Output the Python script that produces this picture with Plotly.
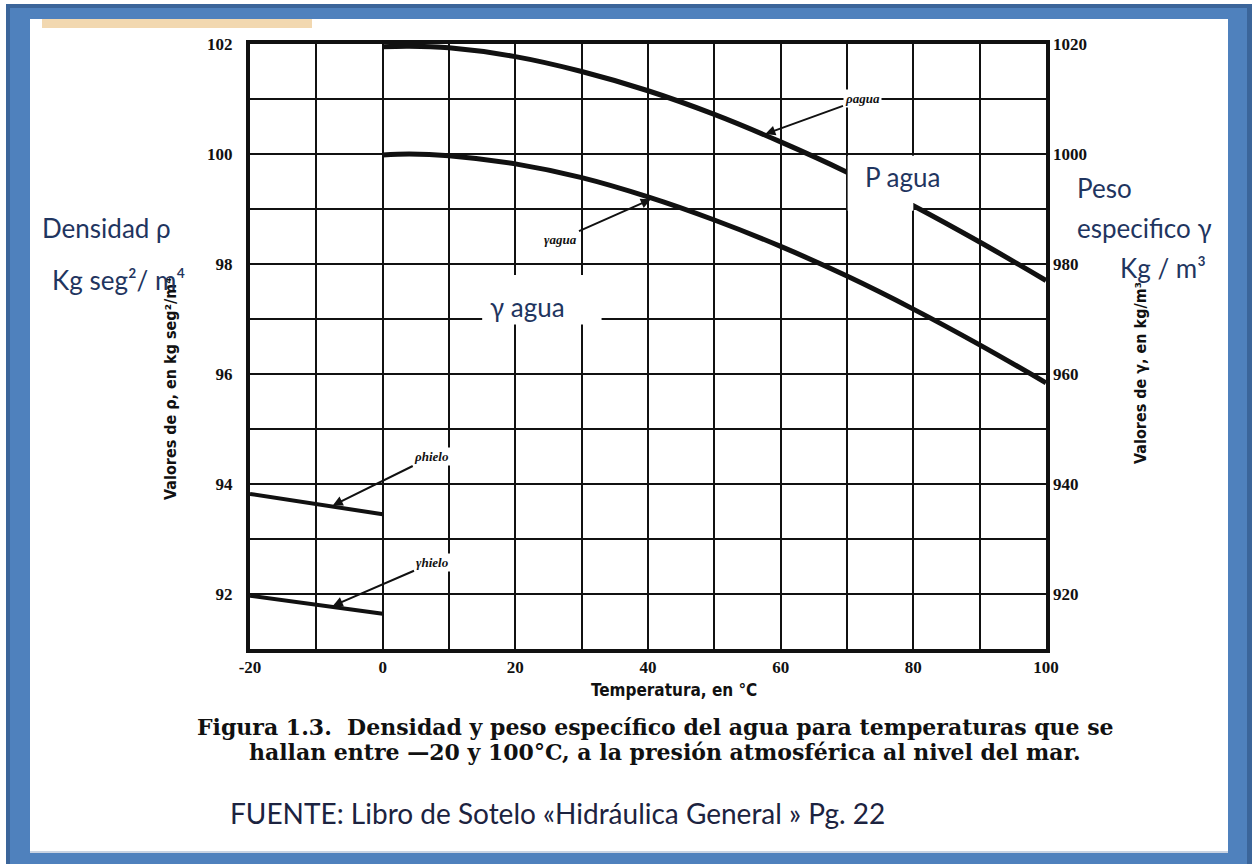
import numpy as np
import plotly.graph_objects as go

# ---------------- data ----------------
T_agua = [0, 4, 10, 20, 30, 40, 50, 60, 70, 80, 90, 100]
rho_agua = [101.95, 101.96, 101.93, 101.77, 101.50, 101.15, 100.72, 100.22, 99.67, 99.06, 98.40, 97.70]
gamma_agua = [999.8, 1000.0, 999.7, 998.2, 995.7, 992.2, 988.0, 983.2, 977.8, 971.8, 965.3, 958.4]

T_hielo = [-20, 0]
rho_hielo = [93.82, 93.45]
gamma_hielo = [919.7, 916.4]

x_ticks = [-20, 0, 20, 40, 60, 80, 100]
x_ticktext = ["-20", "0", "20", "40", "60", "80", "100"]
y_ticks = [92, 94, 96, 98, 100, 102]
y2_ticks = [920, 940, 960, 980, 1000, 1020]

# ---------------- geometry ----------------
W, H = 1256, 864
L, R, T, B = 250, 1046, 44, 649
PW, PH = R - L, B - T


def px(x):
    return (x - L) / PW


def py(y):
    return (B - y) / PH


BLUE = "#4f81bd"
DARK = "#3b659a"
TXT = "#1f3560"
INK = "#111111"
NARROW = "DejaVu Sans Condensed, Liberation Sans, Arial"

fig = go.Figure()

fig.add_trace(go.Scatter(x=T_agua, y=rho_agua, mode="lines", line=dict(color=INK, width=5, shape="spline"),
                         name="ρ agua", yaxis="y"))
fig.add_trace(go.Scatter(x=T_agua, y=gamma_agua, mode="lines", line=dict(color=INK, width=5, shape="spline"),
                         name="γ agua", yaxis="y2"))
fig.add_trace(go.Scatter(x=T_hielo, y=rho_hielo, mode="lines", line=dict(color=INK, width=4),
                         name="ρ hielo", yaxis="y"))
fig.add_trace(go.Scatter(x=T_hielo, y=gamma_hielo, mode="lines", line=dict(color=INK, width=4),
                         name="γ hielo", yaxis="y2"))

tickfont = dict(family="Liberation Serif", size=17, color=INK, weight="bold")

fig.update_layout(
    width=W, height=H,
    margin=dict(l=L, r=W - R, t=T, b=H - B),
    paper_bgcolor="white", plot_bgcolor="rgba(0,0,0,0)",
    showlegend=False,
    xaxis=dict(range=[-20, 100], tickvals=x_ticks, ticktext=x_ticktext, tickfont=tickfont,
               showgrid=True, gridcolor=INK, gridwidth=2,
               minor=dict(dtick=10, tick0=0, showgrid=True, gridcolor=INK, gridwidth=2),
               showline=True, linecolor=INK, linewidth=4, mirror=True,
               ticks="", ticklabelstandoff=0, zeroline=False),
    yaxis=dict(range=[91, 102], tickvals=y_ticks, tickfont=tickfont,
               showgrid=True, gridcolor=INK, gridwidth=2,
               minor=dict(dtick=1, tick0=91, showgrid=True, gridcolor=INK, gridwidth=2),
               showline=True, linecolor=INK, linewidth=4, mirror=True,
               ticks="", ticklabelstandoff=10, zeroline=False),
    yaxis2=dict(range=[910, 1020], tickvals=y2_ticks, tickfont=tickfont, overlaying="y", side="right",
                showgrid=False, showline=False, ticks="", ticklabelstandoff=6, zeroline=False),
)

shapes = []
# frame
shapes.append(dict(type="rect", xref="paper", yref="paper", x0=px(6), x1=px(1252), y0=py(872), y1=py(4),
                   fillcolor=DARK, line=dict(width=0), layer="below"))
shapes.append(dict(type="rect", xref="paper", yref="paper", x0=px(10), x1=px(1247), y0=py(872), y1=py(8),
                   fillcolor=BLUE, line=dict(width=0), layer="below"))
shapes.append(dict(type="rect", xref="paper", yref="paper", x0=px(30), x1=px(1228), y0=py(853), y1=py(19),
                   fillcolor="white", line=dict(width=0), layer="below"))
shapes.append(dict(type="line", xref="paper", yref="paper", x0=px(30), x1=px(1228), y0=py(852), y1=py(852),
                   line=dict(color="#c9d3e2", width=2), layer="below"))
shapes.append(dict(type="rect", xref="paper", yref="paper", x0=px(42), x1=px(312), y0=py(28), y1=py(19),
                   fillcolor="#f2d8b0", line=dict(width=0), layer="below"))
# white-out boxes behind overlay labels
shapes.append(dict(type="rect", xref="x", yref="y", x0=70.1, x1=80, y0=98.97, y1=99.97,
                   fillcolor="white", line=dict(width=0), layer="above"))
shapes.append(dict(type="rect", xref="x", yref="y", x0=79.9, x1=87, y0=99.11, y1=99.97,
                   fillcolor="white", line=dict(width=0), layer="above"))
shapes.append(dict(type="rect", xref="x", yref="y", x0=15, x1=33, y0=96.9, y1=97.8,
                   fillcolor="white", line=dict(width=0), layer="above"))
fig.update_layout(shapes=shapes)

ann = []


def txt(text, x, y, font, xanchor="center", angle=0):
    return dict(text=text, x=px(x), y=py(y), xref="paper", yref="paper", xanchor=xanchor,
                yanchor="middle", showarrow=False, font=font, textangle=angle)


# axis titles
ann.append(txt("Temperatura, en °C", 674, 690, dict(family=NARROW, size=17, color=INK, weight="bold")))
ann.append(txt("Valores de ρ, en kg seg²/m⁴", 170, 389, dict(family=NARROW, size=16, color=INK, weight="bold"),
               angle=-90))
ann.append(txt("Valores de γ, en kg/m³", 1140, 373, dict(family=NARROW, size=16, color=INK, weight="bold"),
               angle=-90))
# caption
cap_font = dict(family="DejaVu Serif", size=22, color=INK, weight="bold")
ann.append(txt("<b>Figura 1.3.</b>  Densidad y peso específico del agua para temperaturas que se", 655, 727,
               cap_font))
ann.append(txt("hallan entre —20 y 100°C, a la presión atmosférica al nivel del mar.", 665, 752, cap_font))
ann.append(txt("FUENTE: Libro de Sotelo «Hidráulica General » Pg. 22", 228, 813,
               dict(family="Lato", size=28, color="#1c2340"), xanchor="left"))
# overlay labels
big = dict(family="Lato", size=26, color=TXT)
ann.append(txt("Densidad ρ", 40, 228, big, xanchor="left"))
ann.append(txt("Kg seg²/ m⁴", 50, 280, big, xanchor="left"))
ann.append(txt("Peso", 1075, 188, big, xanchor="left"))
ann.append(txt("especifico γ", 1075, 228, big, xanchor="left"))
ann.append(txt("Kg / m³", 1118, 268, big, xanchor="left"))
ann.append(txt("P agua", 902, 177, big))
ann.append(txt("γ agua", 527, 307, big))

# small scanned labels with arrows pointing at the curves
small = dict(family="Liberation Serif", size=13, color=INK, style="italic", weight="bold")


def arrow_label(text, t, xs, ys, yref, lx, ly):
    yv = float(np.interp(t, xs, ys))
    tip_px = L + (t + 20) / 120 * PW
    if yref == "y":
        tip_py = B - (yv - 91) / 11 * PH
    else:
        tip_py = B - (yv - 910) / 110 * PH
    return dict(text=text, x=t, y=yv, xref="x", yref=yref, ax=lx - tip_px, ay=ly - tip_py,
                showarrow=True, arrowhead=2, arrowsize=1, arrowwidth=2, arrowcolor=INK,
                font=small, bgcolor="white", standoff=2)


ann.append(arrow_label("ρagua", 57.4, T_agua, rho_agua, "y", 862, 99))
ann.append(arrow_label("γagua", 40.7, T_agua, gamma_agua, "y2", 561, 239))
ann.append(arrow_label("ρhielo", -7.8, T_hielo, rho_hielo, "y", 431, 457))
ann.append(arrow_label("γhielo", -7.8, T_hielo, gamma_hielo, "y2", 432, 563))

fig.update_layout(annotations=ann)

fig.write_html("out.html")
